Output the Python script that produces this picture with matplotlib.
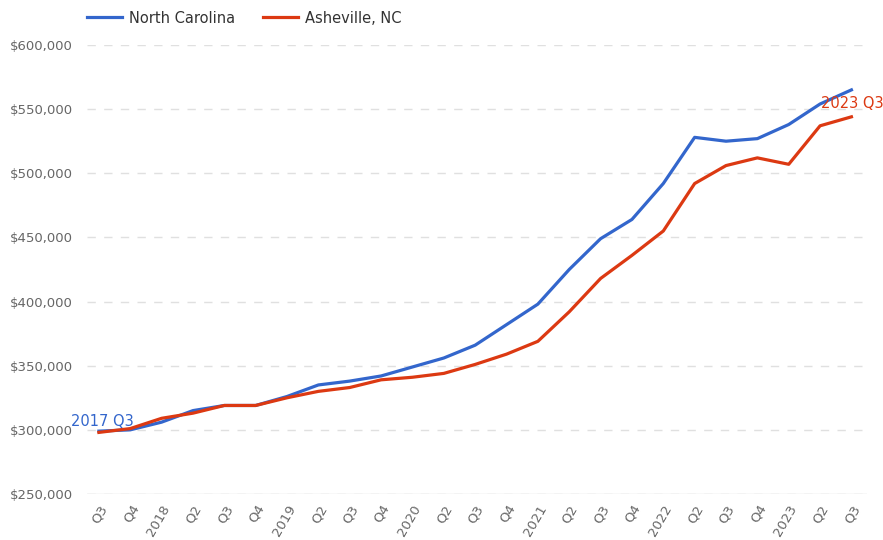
import matplotlib.pyplot as plt
from matplotlib.ticker import FuncFormatter

quarters = ["Q3", "Q4", "2018", "Q2", "Q3", "Q4", "2019", "Q2", "Q3", "Q4",
            "2020", "Q2", "Q3", "Q4", "2021", "Q2", "Q3", "Q4", "2022", "Q2",
            "Q3", "Q4", "2023", "Q2", "Q3"]
north_carolina = [299000, 300000, 306000, 315000, 319000, 319000, 326000, 335000,
                  338000, 342000, 349000, 356000, 366000, 382000, 398000, 425000,
                  449000, 464000, 492000, 528000, 525000, 527000, 538000, 554000,
                  565000]
asheville = [298000, 301000, 309000, 313000, 319000, 319000, 325000, 330000,
             333000, 339000, 341000, 344000, 351000, 359000, 369000, 392000,
             418000, 436000, 455000, 492000, 506000, 512000, 507000, 537000,
             544000]

blue = "#3366cc"
red = "#dc3912"
x = list(range(len(quarters)))

fig = plt.figure(figsize=(8.83, 5.40), dpi=100)
ax = fig.add_axes([0.0985, 0.0852, 0.8835, 0.8315])

ax.plot(x, north_carolina, color=blue, lw=2.3, label="North Carolina", zorder=3)
ax.plot(x, asheville, color=red, lw=2.3, label="Asheville, NC", zorder=4)

ax.set_xlim(-0.38, 24.5)
ax.set_ylim(250000, 600000)
ax.set_yticks(range(250000, 600001, 50000))
ax.yaxis.set_major_formatter(FuncFormatter(lambda v, p: f"${v:,.0f}"))
ax.set_xticks(x)
ax.set_xticklabels(quarters, rotation=60, ha="right", va="top",
                   rotation_mode="anchor")

ax.grid(axis="y", color="#e0e0e0", linestyle=(0, (6, 6)), lw=1)
ax.axhline(250000, color="#e0e0e0", lw=1, zorder=1)
for s in ax.spines.values():
    s.set_visible(False)
ax.tick_params(length=0, colors="#666666", labelsize=9.5, pad=10)
ax.tick_params(axis="x", pad=6)

# point labels on the ends
ax.text(x[0] + 0.1, north_carolina[0] + 1500, "2017 Q3", color=blue,
        fontsize=10.5, ha="center", va="bottom")
ax.text(x[-1] + 1.03, north_carolina[-1] - 4500, "2023 Q3", color=red,
        fontsize=10.5, ha="right", va="top")

ax.legend(loc="center left", bbox_to_anchor=(0.0, 1.06), ncol=2, frameon=False,
          fontsize=10.5, handlelength=2.4, columnspacing=1.9, handletextpad=0.5,
          borderaxespad=0, borderpad=0, labelcolor="#333333")

fig.savefig("out.png", dpi=100)
